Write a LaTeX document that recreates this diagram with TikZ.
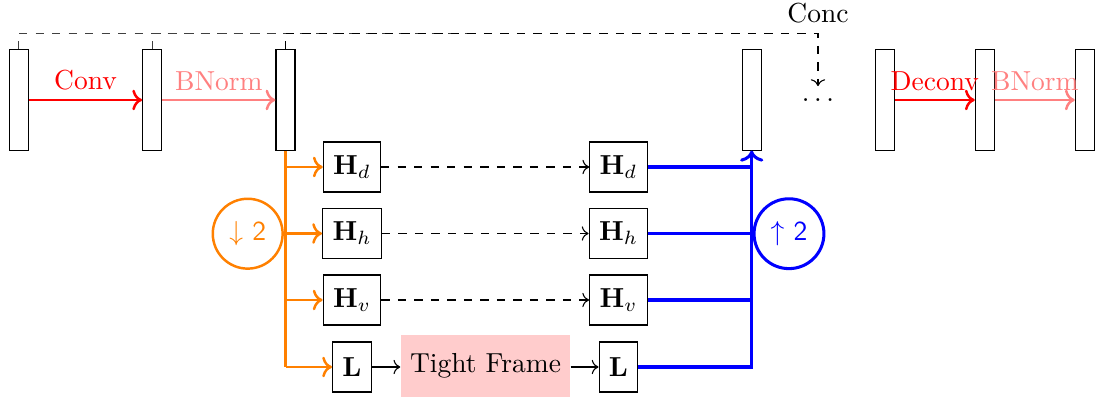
\documentclass[tikz,border=0pt]{standalone}
\usetikzlibrary{arrows.meta}
\begin{document}
\begin{tikzpicture}[x=0.3636pt,y=-0.3636pt,
  fmap/.style={draw, minimum width=6.9pt, minimum height=36.4pt, inner sep=0pt},
  filt/.style={draw, minimum height=18.2pt, inner sep=3.6pt},
  sampler/.style={circle, draw, minimum size=25.4pt, inner sep=0pt},
  op/.style={line width=0.9pt, ->},
  down/.style={line width=0.9pt, orange},
  up/.style={line width=1.1pt, blue},
  lbl/.style={above, inner sep=3pt}]
\useasboundingbox (0,0) rectangle (1095,397);

% feature maps
\node[fmap] (r1) at (18.8,100) {};
\node[fmap] (r2) at (152.2,100) {};
\node[fmap] (r3) at (285.5,100) {};
\node[fmap] (r4) at (751.7,100) {};
\node[fmap] (r5) at (884.8,100) {};
\node[fmap] (r6) at (984.8,100) {};
\node[fmap] (r7) at (1084.8,100) {};

% encoder / decoder operations
\draw[op, red] (r1.east) -- node[lbl] {Conv} (r2.west);
\draw[op, red!50] (r2.east) -- node[lbl] {BNorm} (r3.west);
\draw[op, red] (r5.east) -- node[lbl] {Deconv} (r6.west);
\draw[op, red!50] (r6.east) -- node[lbl] {BNorm} (r7.west);

% skip connection
\node (dots) at (818,100) {$\ldots$};
\coordinate (conc) at (818,33.3);
\coordinate (skipend) at (478,33.3);
\draw[dashed, black!75] (r1.north) |- (skipend);
\draw[dashed, black!75] (r2.north) |- (skipend);
\draw[dashed, ->, shorten >=1pt] (r3.north) |- (conc) node[above] {Conc} -- (dots.north);

% wavelet sub-bands
\node[filt] (hd1) at (352,167) {$\mathbf{H}_d$};
\node[filt] (hh1) at (352,233.5) {$\mathbf{H}_h$};
\node[filt] (hv1) at (352,300) {$\mathbf{H}_v$};
\node[filt] (l1) at (352,367) {$\mathbf{L}$};
\node[filt] (hd2) at (618.5,167) {$\mathbf{H}_d$};
\node[filt] (hh2) at (618.5,233.5) {$\mathbf{H}_h$};
\node[filt] (hv2) at (618.5,300) {$\mathbf{H}_v$};
\node[filt] (l2) at (618.5,367) {$\mathbf{L}$};
\node[fill=red!20, minimum height=22.6pt] (tf) at (485.5,366) {Tight Frame};

\draw[dashed, ->] (hd1.east) -- (hd2.west);
\draw[dashed, ->] (hh1.east) -- (hh2.west);
\draw[dashed, ->] (hv1.east) -- (hv2.west);
\draw[->] (l1.east) -- (tf.west |- l1.east);
\draw[->] (tf.east |- l2.west) -- (l2.west);

% downsampling branch
\draw[down] (r3.south) -- (r3.south |- l1.west);
\draw[down, ->] (r3.south |- hd1.west) -- (hd1.west);
\draw[down, ->] (r3.south |- hh1.west) -- (hh1.west);
\draw[down, ->] (r3.south |- hv1.west) -- (hv1.west);
\draw[down, ->] (r3.south |- l1.west) -- (l1.west);
\node[sampler, down] (dn) at (247.7,233.7) {$\downarrow$ \textsf{2}};

% upsampling branch
\draw[up, ->] (l2.east) -| (r4.south);
\draw[up] (hd2.east) -- (hd2.east -| r4.south);
\draw[up] (hh2.east) -- (hh2.east -| r4.south);
\draw[up] (hv2.east) -- (hv2.east -| r4.south);
\node[sampler, up] (upc) at (789,233.7) {$\uparrow$ \textsf{2}};
\end{tikzpicture}
\end{document}
